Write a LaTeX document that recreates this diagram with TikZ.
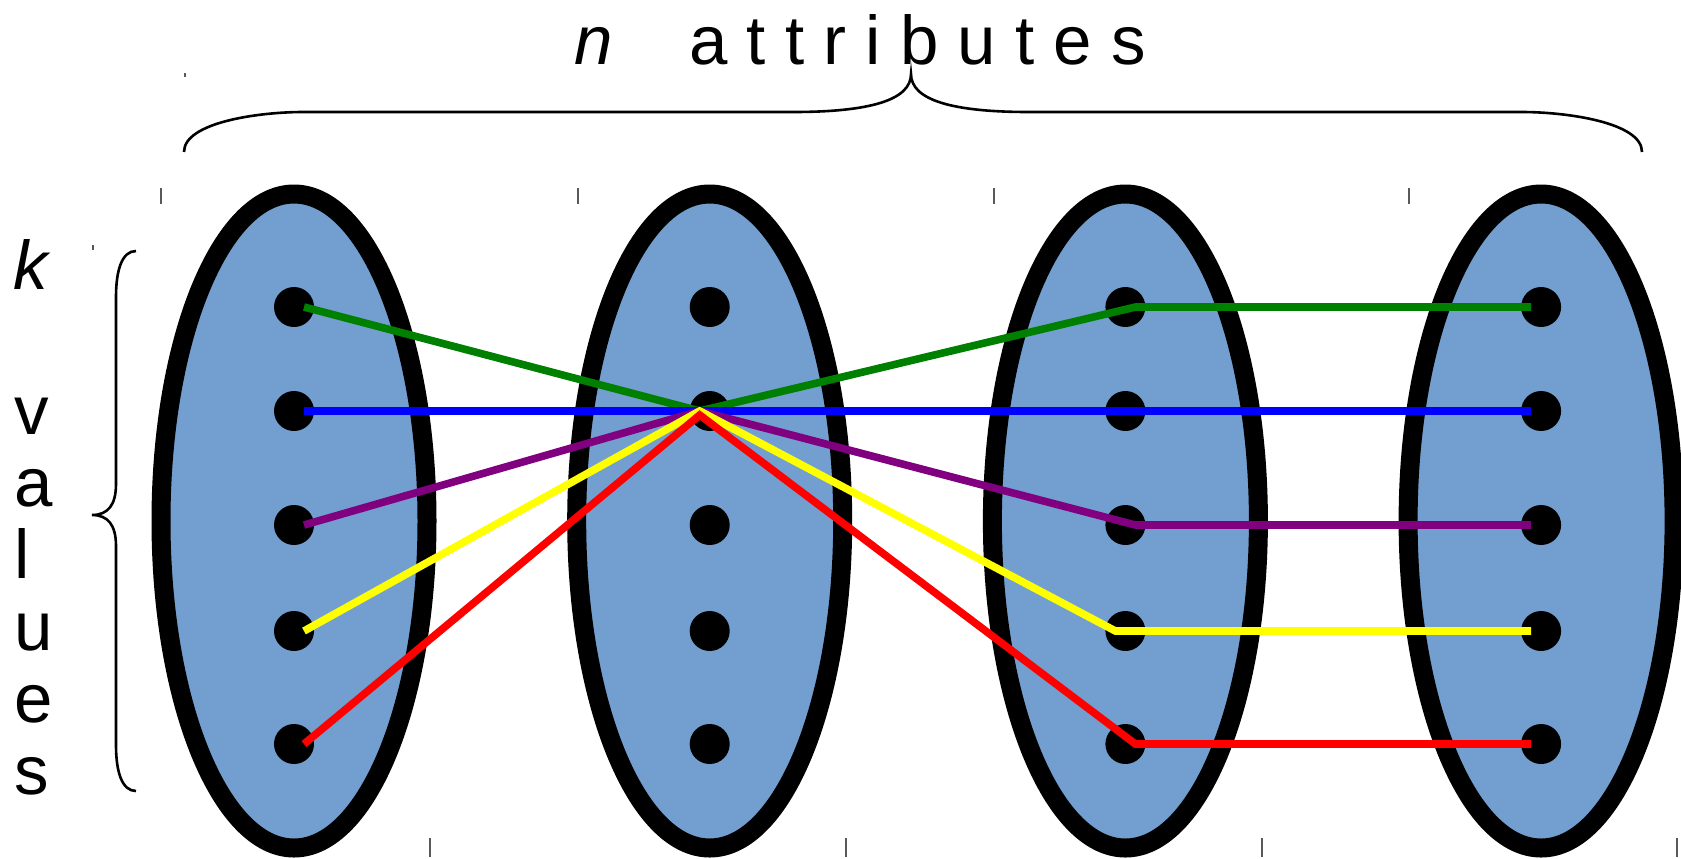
\documentclass[tikz,border=0pt]{standalone}
\usepackage{fontspec}
\setmainfont{Liberation Sans}
\usetikzlibrary{shapes.geometric,calc}
\definecolor{attrblue}{RGB}{114,159,207}
\definecolor{linkgreen}{RGB}{0,128,0}
\definecolor{linkpurple}{RGB}{128,0,128}
\definecolor{linkyellow}{RGB}{255,255,0}
\definecolor{linkblue}{RGB}{0,0,255}
\definecolor{linkred}{RGB}{255,0,0}
\definecolor{tickgray}{gray}{0.35}

\begin{document}
\begin{tikzpicture}[x=0.5pt, y=-0.5pt,
  attr/.style={ellipse, draw=black, line width=9.5pt, fill=attrblue, inner sep=0pt, minimum width=133pt, minimum height=327pt},
  val/.style={circle, fill=black, inner sep=0pt, minimum size=20pt},
  link/.style={line width=3.8pt},
  label/.style={inner sep=0pt, font=\fontsize{34.5}{36}\selectfont},
  brace/.style={line width=1.3pt},
  tick/.style={draw=tickgray, line width=0.75pt}
]
\useasboundingbox (0,0) rectangle (1681,858);
% attribute ellipses
\foreach \c in {1,...,4}
  \node[attr] (a\c) at ({294+415.7*(\c-1)}, 521) {};
% values
\foreach \c in {1,...,4}
  \foreach \r/\y in {1/307,2/411,3/525,4/631,5/744}
    \node[val] (d\c\r) at ({294+415.7*(\c-1)}, \y) {};
% links
\draw[link, linkgreen] ($(d11)+(10,0)$) -- ($(d22)+(-10,0)$) -- ($(d31)+(10,0)$) -- ($(d41)+(-10,0)$);
\draw[link, linkblue] ($(d12)+(10,0)$) -- ($(d42)+(-10,0)$);
\draw[link, linkpurple] ($(d13)+(10,0)$) -- ($(d22)+(-10,0)$) -- ($(d33)+(10,0)$) -- ($(d43)+(-10,0)$);
\draw[link, linkyellow] ($(d14)+(10,0)$) -- ($(d22)+(-10,0)$) -- ($(d34)+(-10,0)$) -- ($(d44)+(-10,0)$);
\draw[link, linkred] ($(d15)+(10,0)$) -- ($(d22)+(-10,4)$) -- ($(d35)+(10,0)$) -- ($(d45)+(-10,0)$);
% braces
\draw[brace] (184,152) .. controls (184,122) and (260,112) .. (303,112) -- (793,112)
  .. controls (870,112) and (911,100) .. (911,74) .. controls (911,100) and (952,112) .. (1029,112)
  -- (1522,112) .. controls (1565,112) and (1642,122) .. (1642,152);
\draw[brace] (136,251) .. controls (122,251) and (116,270) .. (116,297) -- (116,484)
  .. controls (116,505) and (108,515) .. (92,515) .. controls (108,515) and (116,525) .. (116,546)
  -- (116,745) .. controls (116,772) and (122,791) .. (136,791);
% labels
\node[label, anchor=base west] (title) at (574,64) {\textit{n}~~~~a t t r i b u t e s};
\node[label, anchor=base west] (k) at (13,289) {\textit{k}};
\foreach \ch [count=\i] in {v,a,l,u,e,s}
  \node[label, anchor=base west] (v\i) at (14,362+72*\i) {\ch};
% ticks
\foreach \x in {161,578,994,1409}
  \draw[tick] (\x,188) -- (\x,204);
\foreach \x in {430,846,1262,1677}
  \draw[tick] (\x,838) -- (\x,857);
\draw[tick] (185,73) -- (185,77);
\draw[tick] (93,245) -- (93,250);
\end{tikzpicture}
\end{document}
